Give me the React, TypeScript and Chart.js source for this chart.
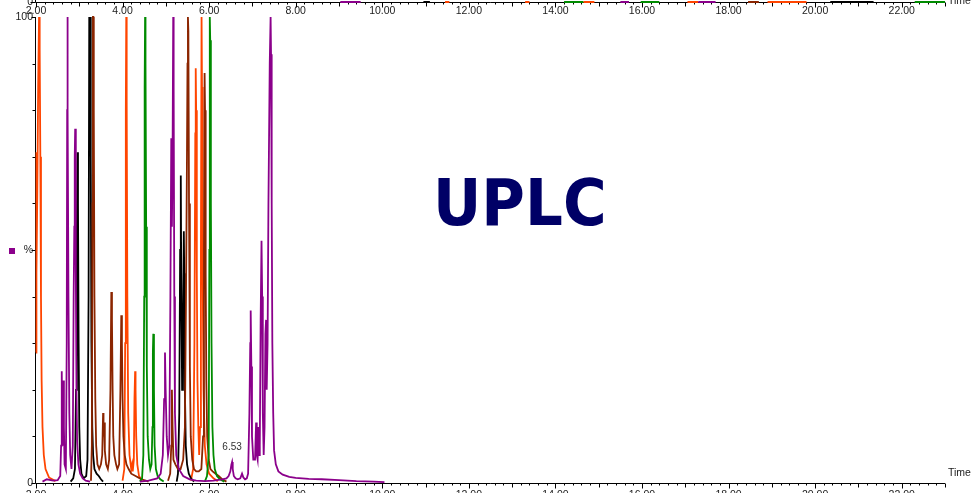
import React, { useEffect, useRef } from 'react';
import { Chart, registerables } from 'chart.js';

Chart.register(...registerables);

const FONT = '"Liberation Sans", Arial, Helvetica, sans-serif';
const TEXT = '#1a1a1a';

// ---- axes ----
const X_MIN = 2;
const X_MAX = 23;
const X_LABEL_STEP = 2;
const X_MINOR_STEP = 0.2;
const Y_MIN = 0;
const Y_MAX = 100;
const Y_STEP = 10;
const Y_LABELS: Record<number, string> = { 0: '0', 50: '%', 100: '100' };
const X_AXIS_TITLE = 'Time';

// ---- colours ----
const ORANGE = '#ff4500';
const PURPLE = '#8b008b';
const BLACK = '#000000';
const BROWN = '#8b2500';
const GREEN = '#008b00';

// ---- chromatogram traces: [time (min), intensity (%)], null = break ----
type P = [number, number] | null;

const ORANGE_TRACE: P[] = [
  [2.0, 28], [2.005, 71], [2.015, 45], [2.03, 62], [2.05, 85], [2.07, 100], [2.085, 93], [2.1, 70],
  [2.115, 40], [2.13, 22], [2.15, 12], [2.18, 6], [2.22, 3], [2.3, 1.2], [2.45, 0.4], null,
  [4.0, 0.5], [4.04, 3], [4.06, 30], [4.075, 80], [4.085, 100], [4.095, 82], [4.11, 40], [4.13, 15],
  [4.16, 6], [4.2, 3], [4.22, 4], [4.235, 2.5], [4.26, 5], [4.275, 18], [4.29, 24], [4.3, 20],
  [4.315, 10], [4.34, 4], [4.38, 1.5], [4.45, 0.5], null,
  [5.58, 0.5], [5.63, 3], [5.66, 30], [5.68, 75], [5.69, 89], [5.7, 80], [5.715, 45], [5.73, 22],
  [5.75, 12], [5.77, 6], [5.79, 12], [5.81, 50], [5.825, 100], [5.835, 85], [5.85, 45], [5.87, 20],
  [5.9, 8], [5.94, 4], [6.0, 2], [6.1, 1], [6.2, 0.4],
];

const PURPLE_TRACE: P[] = [
  [2.15, 0.3], [2.25, 0.8], [2.4, 0.5], [2.5, 0.6], [2.56, 1.5], [2.58, 8], [2.595, 24], [2.605, 14],
  [2.62, 8], [2.635, 22], [2.645, 12], [2.66, 4], [2.69, 3], [2.71, 30], [2.72, 80], [2.725, 100],
  [2.735, 80], [2.75, 40], [2.77, 15], [2.79, 6], [2.82, 3], [2.85, 8], [2.87, 40], [2.885, 55],
  [2.895, 70], [2.905, 76], [2.92, 45], [2.935, 20], [2.95, 9], [2.98, 4], [3.02, 2], [3.08, 1],
  [3.15, 0.5], [3.25, 0.3], null,
  [4.4, 0.3], [4.6, 0.5], [4.8, 1], [4.88, 2], [4.93, 6], [4.96, 18], [4.98, 28], [4.995, 20],
  [5.02, 10], [5.05, 6], [5.08, 8], [5.105, 40], [5.125, 74], [5.14, 55], [5.155, 70], [5.17, 100],
  [5.18, 85], [5.195, 40], [5.21, 15], [5.24, 6], [5.3, 3], [5.4, 1.5], [5.55, 0.8], [5.7, 0.5],
  [5.9, 0.4], [6.1, 0.5], [6.3, 0.8], [6.4, 1], [6.45, 1.5], [6.49, 2.5], [6.515, 4], [6.53, 4.5],
  [6.545, 3], [6.57, 1.5], [6.61, 1], [6.66, 0.8], [6.72, 1], [6.76, 2], [6.79, 1.2], [6.83, 0.8],
  [6.87, 1], [6.9, 2], [6.93, 15], [6.95, 30], [6.96, 37], [6.975, 25], [6.99, 10], [7.02, 5],
  [7.06, 5], [7.085, 13], [7.1, 6], [7.12, 5], [7.14, 12], [7.155, 6], [7.17, 8], [7.19, 35],
  [7.21, 52], [7.225, 40], [7.24, 15], [7.26, 6], [7.28, 12], [7.3, 32], [7.315, 35], [7.33, 20],
  [7.35, 30], [7.37, 60], [7.4, 90], [7.42, 100], [7.43, 92], [7.445, 60], [7.46, 30], [7.48, 15],
  [7.5, 7], [7.54, 4], [7.6, 2.5], [7.7, 1.8], [7.85, 1.3], [8.0, 1.1], [8.3, 0.9], [8.6, 0.8],
  [9.0, 0.6], [9.4, 0.4], [9.8, 0.3], [10.05, 0.2],
];

const BLACK_TRACE: P[] = [
  [2.8, 0.3], [2.86, 1], [2.9, 3], [2.925, 20], [2.945, 55], [2.96, 71], [2.97, 60], [2.985, 30],
  [3.0, 12], [3.02, 5], [3.05, 2], [3.1, 1], [3.16, 1.5], [3.19, 5], [3.215, 40], [3.23, 100],
  [3.24, 98], [3.255, 100], [3.265, 70], [3.28, 30], [3.3, 12], [3.32, 6], [3.35, 3], [3.4, 2],
  [3.45, 1.5], [3.5, 0.8], [3.55, 0.3], null,
  [5.25, 0.3], [5.28, 2], [5.31, 15], [5.33, 50], [5.345, 66], [5.355, 45], [5.375, 20], [5.395, 30],
  [5.415, 54], [5.425, 45], [5.44, 20], [5.46, 8], [5.49, 4], [5.53, 2], [5.58, 1], [5.65, 0.3],
];

const BROWN_TRACE: P[] = [
  [3.27, 0.5], [3.29, 8], [3.305, 60], [3.315, 100], [3.325, 100], [3.335, 80], [3.35, 40], [3.37, 18],
  [3.39, 8], [3.42, 4], [3.46, 3], [3.5, 4], [3.53, 6], [3.55, 15], [3.56, 10], [3.575, 13],
  [3.59, 7], [3.62, 4], [3.66, 3], [3.69, 5], [3.72, 20], [3.74, 41], [3.755, 35], [3.77, 20],
  [3.785, 10], [3.81, 6], [3.85, 4], [3.88, 3], [3.92, 4], [3.95, 20], [3.97, 36], [3.985, 30],
  [4.0, 18], [4.02, 10], [4.05, 6], [4.09, 4], [4.14, 3], [4.2, 2], [4.3, 1.5], [4.4, 1],
  [4.5, 0.6], [4.6, 0.3], null,
  [5.05, 0.5], [5.1, 2], [5.125, 8], [5.14, 20], [5.155, 12], [5.175, 5], [5.22, 4], [5.28, 3],
  [5.34, 3], [5.4, 5], [5.44, 12], [5.465, 40], [5.485, 66], [5.5, 90], [5.51, 100], [5.52, 97],
  [5.535, 60], [5.555, 25], [5.575, 10], [5.61, 5], [5.65, 3], [5.7, 2.5], [5.76, 2.5], [5.82, 3],
  [5.86, 10], [5.88, 50], [5.895, 88], [5.905, 80], [5.92, 45], [5.935, 22], [5.955, 10], [5.99, 5],
  [6.03, 3], [6.08, 2.5], [6.15, 2], [6.22, 1.5], [6.3, 0.8], [6.4, 0.3],
];

const GREEN_TRACE: P[] = [
  [4.4, 0.3], [4.45, 1], [4.48, 6], [4.5, 40], [4.51, 85], [4.52, 100], [4.53, 90], [4.545, 55],
  [4.56, 25], [4.58, 10], [4.61, 5], [4.64, 3], [4.67, 4], [4.69, 12], [4.7, 28], [4.71, 32],
  [4.725, 20], [4.74, 8], [4.77, 3], [4.81, 1.5], [4.87, 0.8], [4.95, 0.3], null,
  [5.9, 0.3], [5.95, 1.5], [5.99, 6], [6.005, 50], [6.015, 100], [6.025, 95], [6.04, 60], [6.055, 30],
  [6.075, 12], [6.1, 6], [6.13, 3], [6.18, 1.5], [6.25, 0.8], [6.35, 0.3],
];

// ---- labelled peak ----
const PEAK_LABEL_TIMES = [6.53];
const PEAK_LABEL_HEIGHTS = [4.5];

// ---- upper (cropped) trace baseline segments [start, end] ----
const TOP_PURPLE: [number, number][] = [[9.03, 9.5], [15.5, 15.7], [17.3, 17.7]];
const TOP_ORANGE: [number, number][] = [[11.45, 11.55], [13.3, 13.4], [14.65, 14.9], [17.05, 17.3], [18.9, 19.8]];
const TOP_GREEN: [number, number][] = [[14.2, 14.65], [15.97, 16.4], [22.3, 23.0]];
const TOP_BLACK: [number, number][] = [[10.95, 11.1], [20.35, 21.35]];
const TOP_BROWN: [number, number][] = [[18.45, 18.7]];

const toPoints = (tr: P[]) =>
  tr.map((p, i) => (p ? { x: p[0], y: p[1] } : { x: (tr[i - 1] as [number, number])[0], y: null }));

const segPoints = (segs: [number, number][]) =>
  segs.flatMap(([a, b]) => [{ x: a, y: 0 }, { x: b, y: 0 }, { x: b, y: null }]);

const xTickLabel = (v: number) =>
  Math.abs(v / X_LABEL_STEP - Math.round(v / X_LABEL_STEP)) < 1e-6 ? Number(v).toFixed(2) : '';

const decoPlugin = {
  id: 'deco',
  beforeDatasetsDraw(chart: any, _a: any, opts: any) {
    const { ctx, chartArea: ca, scales } = chart;
    const xs = scales.x;
    const ys = scales.y;
    ctx.save();
    ctx.strokeStyle = '#000';
    ctx.lineWidth = 1;
    const yb = Math.round(ca.bottom) + 0.5;
    const xl = Math.round(ca.left) - 0.5;
    ctx.beginPath();
    ctx.moveTo(xl, Math.round(ca.top));
    ctx.lineTo(xl, yb);
    ctx.lineTo(Math.round(ca.right), yb);
    const n = Math.round((X_MAX - X_MIN) / X_MINOR_STEP);
    for (let i = 0; i <= n; i++) {
      const v = X_MIN + i * X_MINOR_STEP;
      const r = Math.round(v);
      const isInt = Math.abs(v - r) < 1e-6;
      const len = isInt ? (r % X_LABEL_STEP === 0 ? 5 : 4) : 2;
      const px = Math.round(xs.getPixelForValue(v)) + 0.5;
      ctx.moveTo(px, yb);
      ctx.lineTo(px, yb + len);
    }
    if (opts.yTicks) {
      for (let v = Y_MIN; v <= Y_MAX; v += Y_STEP) {
        const py = Math.round(ys.getPixelForValue(v)) + 0.5;
        const len = Y_LABELS[v] !== undefined ? 4 : 3;
        ctx.moveTo(xl - len, py);
        ctx.lineTo(xl, py);
      }
    } else {
      ctx.moveTo(xl - 5, yb);
      ctx.lineTo(xl, yb);
    }
    ctx.stroke();
    ctx.restore();
  },
  afterDraw(chart: any, _a: any, opts: any) {
    const { ctx, chartArea: ca, scales } = chart;
    ctx.save();
    ctx.fillStyle = TEXT;
    ctx.font = `10.5px ${FONT}`;
    ctx.textAlign = 'left';
    ctx.textBaseline = 'alphabetic';
    ctx.fillText(X_AXIS_TITLE, ca.right + 3, Math.round(ca.bottom) + opts.titleDy);
    if (opts.marker) {
      const py = scales.y.getPixelForValue(50);
      ctx.fillStyle = PURPLE;
      ctx.fillRect(9, Math.round(py) - 2, 6, 6);
    }
    if (opts.peakLabels) {
      ctx.fillStyle = '#333';
      ctx.font = `10px ${FONT}`;
      ctx.textAlign = 'center';
      PEAK_LABEL_TIMES.forEach((t, i) => {
        const px = scales.x.getPixelForValue(t);
        const py = scales.y.getPixelForValue(PEAK_LABEL_HEIGHTS[i]);
        ctx.fillText(t.toFixed(2), px, py - 12);
      });
    }
    ctx.restore();
  },
};

const lineDs = (label: string, data: any[], color: string, width = 1.8) => ({
  label,
  data,
  borderColor: color,
  backgroundColor: color,
  borderWidth: width,
  pointRadius: 0,
  tension: 0,
  spanGaps: false,
  clip: false as any,
});

const baseScales = (xHeight: number, xPad: number, yLabel: (v: number) => string) => ({
  x: {
    type: 'linear' as const,
    min: X_MIN,
    max: X_MAX,
    grid: { display: false, drawTicks: false },
    border: { display: false },
    ticks: {
      stepSize: X_LABEL_STEP,
      autoSkip: false,
      maxRotation: 0,
      padding: xPad,
      color: TEXT,
      font: { family: FONT, size: 10.5 },
      callback: (v: any) => xTickLabel(Number(v)),
    },
    afterFit: (s: any) => {
      s.height = xHeight;
    },
  },
  y: {
    type: 'linear' as const,
    min: Y_MIN,
    max: Y_MAX,
    grid: { display: false, drawTicks: false },
    border: { display: false },
    ticks: {
      stepSize: Y_STEP,
      autoSkip: false,
      padding: 3,
      color: TEXT,
      font: { family: FONT, size: 10.5 },
      callback: (v: any) => yLabel(Number(v)),
    },
    afterFit: (s: any) => {
      s.width = 36;
    },
  },
});

export default function App() {
  const mainRef = useRef<HTMLCanvasElement>(null);
  const topRef = useRef<HTMLCanvasElement>(null);

  useEffect(() => {
    const common = {
      animation: false as const,
      responsive: false,
      events: [] as any[],
    };
    const main = new Chart(mainRef.current!, {
      type: 'line',
      data: {
        datasets: [
          lineDs('purple', toPoints(PURPLE_TRACE), PURPLE),
          lineDs('green', toPoints(GREEN_TRACE), GREEN),
          lineDs('brown', toPoints(BROWN_TRACE), BROWN),
          lineDs('black', toPoints(BLACK_TRACE), BLACK),
          lineDs('orange', toPoints(ORANGE_TRACE), ORANGE),
        ],
      },
      options: {
        ...common,
        layout: { padding: { top: 17, right: 26, left: 0, bottom: 0 } },
        scales: baseScales(27, 6, (v) => (Y_LABELS[v] !== undefined ? Y_LABELS[v] : '')),
        plugins: {
          legend: { display: false },
          tooltip: { enabled: false },
          deco: { yTicks: true, marker: true, peakLabels: true, titleDy: -7 },
        } as any,
      },
      plugins: [decoPlugin],
    });
    const top = new Chart(topRef.current!, {
      type: 'line',
      data: {
        datasets: [
          lineDs('tp', segPoints(TOP_PURPLE), PURPLE, 2),
          lineDs('to', segPoints(TOP_ORANGE), ORANGE, 2),
          lineDs('tg', segPoints(TOP_GREEN), GREEN, 2),
          lineDs('tk', segPoints(TOP_BLACK), BLACK, 2),
          lineDs('tb', segPoints(TOP_BROWN), BROWN, 2),
        ],
      },
      options: {
        ...common,
        layout: { padding: { top: 0, right: 26, left: 0, bottom: 0 } },
        scales: baseScales(18, 2.5, (v) => (v === 0 ? '0' : '')),
        plugins: {
          legend: { display: false },
          tooltip: { enabled: false },
          deco: { yTicks: false, marker: false, peakLabels: false, titleDy: 2 },
        } as any,
      },
      plugins: [decoPlugin],
    });
    return () => {
      main.destroy();
      top.destroy();
    };
  }, []);

  return (
    <div
      style={{
        position: 'fixed',
        left: 0,
        top: 0,
        width: 971,
        height: 493,
        overflow: 'hidden',
        background: '#fff',
      }}
    >
      <canvas
        ref={topRef}
        width={971}
        height={50}
        style={{ position: 'absolute', left: 0, top: -30, width: 971, height: 50 }}
      />
      <canvas
        ref={mainRef}
        width={971}
        height={510}
        style={{ position: 'absolute', left: 0, top: 0, width: 971, height: 510 }}
      />
      <div
        style={{
          position: 'absolute',
          left: 433,
          top: 171,
          fontFamily: '"DejaVu Sans", Verdana, sans-serif',
          fontWeight: 'bold',
          fontSize: 64,
          lineHeight: 1,
          color: '#000066',
          whiteSpace: 'nowrap',
          transform: 'scaleX(0.93)',
          transformOrigin: 'left top',
        }}
      >
        UPLC
      </div>
    </div>
  );
}
